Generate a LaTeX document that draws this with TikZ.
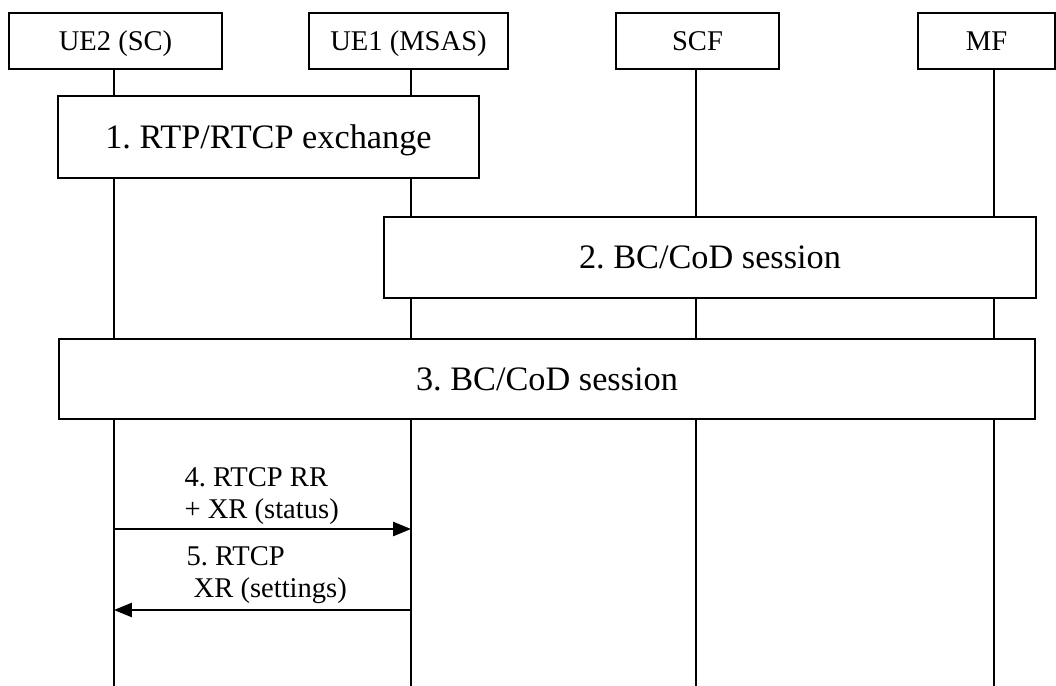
\documentclass[tikz,border=0pt]{standalone}
\usepackage{fontspec}
\setmainfont{Liberation Serif}
\usepackage{tikz}
\usetikzlibrary{arrows.meta}
\frenchspacing

\tikzset{
  entity/.style={draw, fill=white, line width=0.6pt, inner sep=0pt,
    minimum height=19.4pt, text height=6.6pt, text depth=0pt,
    font=\fontsize{10}{11.2}\selectfont},
  phase/.style={draw, fill=white, line width=0.6pt, inner sep=0pt,
    text height=7.9pt, text depth=0pt, font=\fontsize{12}{14}\selectfont},
  lifeline/.style={line width=0.6pt},
  msg/.style={line width=0.6pt, -{Triangle[length=6.3pt,width=5pt]}},
  msglabel/.style={inner sep=0pt, align=left, font=\fontsize{10}{11.2}\selectfont}
}

\begin{document}
\begin{tikzpicture}[x=0.35pt, y=-0.35pt]
          \useasboundingbox (0,0) rectangle (1056,686);

          % Entities
          \node[entity, minimum width=74.55pt] (ue2) at (115.5,41) {UE2 (SC)};
          \node[entity, minimum width=69.65pt] (ue1) at (408.5,41) {UE1 (MSAS)};
          \node[entity, minimum width=57.05pt] (scf) at (697.5,41) {SCF};
          \node[entity, minimum width=47.95pt] (mf) at (986.5,41) {MF};

          % Lifelines
          \coordinate (ue2end) at (114,686);
          \coordinate (ue1end) at (411,686);
          \coordinate (scfend) at (696,686);
          \coordinate (mfend) at (994,686);
          \draw[lifeline] (ue2end |- ue2.south) -- (ue2end);
          \draw[lifeline] (ue1end |- ue1.south) -- (ue1end);
          \draw[lifeline] (scfend |- scf.south) -- (scfend);
          \draw[lifeline] (mfend |- mf.south) -- (mfend);

          % Session phases
          \node[phase, minimum width=147.35pt, minimum height=28.7pt] (rtp) at (268.5,137) {1. RTP/RTCP exchange};
          \node[phase, minimum width=228.2pt, minimum height=28.35pt] (bcod) at (710,257.5) {2. BC/CoD session};
          \node[phase, minimum width=341.6pt, minimum height=28pt] (bcodall) at (547,379) {3. BC/CoD session};

          % RTCP messages
          \coordinate (m4) at (0,529);
          \coordinate (m5) at (0,610);
          \draw[msg] (ue2end |- m4) -- (ue1end |- m4);
          \draw[msg] (ue1end |- m5) -- (ue2end |- m5);

          \node[msglabel, anchor=north west] (rrlabel) at (184,467) {4. RTCP RR\\+ XR (status)};
          \node[msglabel, anchor=north west] (xrlabel) at (186,546) {5. RTCP\\\hspace*{0.25em}XR (settings)};
        \end{tikzpicture}
\end{document}
